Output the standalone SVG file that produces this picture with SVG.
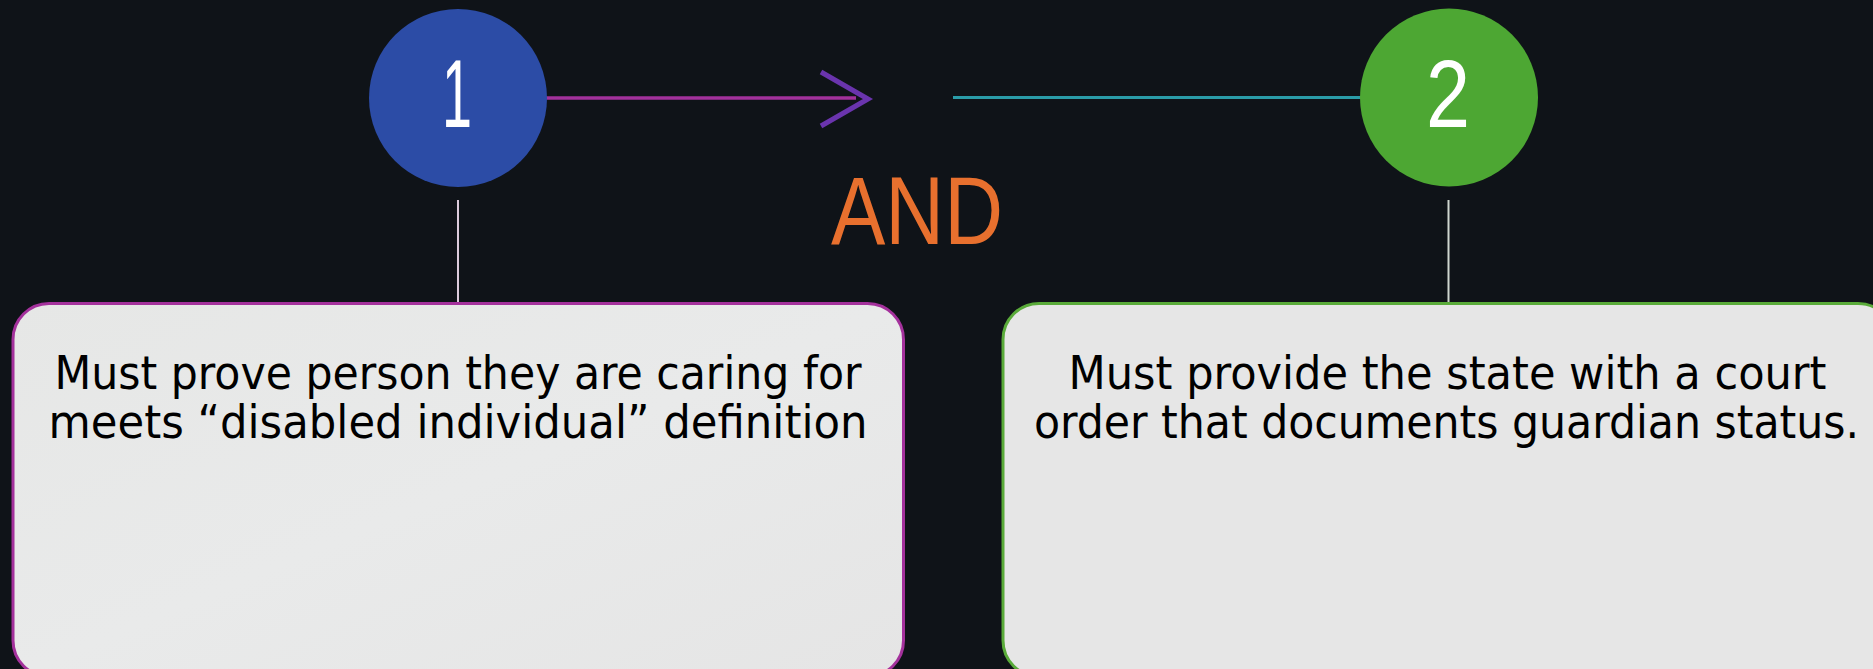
<svg xmlns="http://www.w3.org/2000/svg" width="1873" height="669" viewBox="0 0 1873 669">
<defs>
<style>
.num{font-family:"Liberation Sans","DejaVu Sans",sans-serif;font-size:96px;fill:#ffffff;text-anchor:middle}
.body{font-family:"DejaVu Sans Condensed","Liberation Sans Narrow","Liberation Sans",sans-serif;font-size:46px;fill:#000000;text-anchor:middle}
.and{font-family:"Liberation Sans","DejaVu Sans",sans-serif;font-size:96px;fill:#e8702e;text-anchor:middle}
.box{stroke-width:3}
</style>
<linearGradient id="bg1" x1="0" y1="0" x2="1" y2="1">
<stop offset="0" stop-color="#e6e7e6"/>
<stop offset="0.5" stop-color="#e9eaea"/>
<stop offset="1" stop-color="#e5e5e5"/>
</linearGradient>
</defs>
<rect x="0" y="0" width="1873" height="669" fill="#0f1318"/>
<g id="connectors">
<line x1="546" y1="98" x2="856" y2="98" stroke="#a2319b" stroke-width="3.4"/>
<polyline points="821,72 868,99 821,126" fill="none" stroke="#6a34ad" stroke-width="5"/>
<line x1="953" y1="97.5" x2="1362" y2="97.5" stroke="#2a9ca8" stroke-width="3"/>
<line x1="458" y1="200" x2="458" y2="303" stroke="#dcccdc" stroke-width="2"/>
<line x1="1448.5" y1="200" x2="1448.5" y2="303" stroke="#cfd6cf" stroke-width="2"/>
</g>
<g id="node1">
<circle cx="458" cy="98" r="89" fill="#2c4ca6"/>
<text class="num" x="457" y="127" textLength="30" lengthAdjust="spacingAndGlyphs">1</text>
</g>
<g id="node2">
<circle cx="1449" cy="97.5" r="89" fill="#4da733"/>
<text class="num" x="1448" y="127" textLength="44" lengthAdjust="spacingAndGlyphs">2</text>
</g>
<g id="and-label">
<text class="and" x="917" y="244" textLength="172" lengthAdjust="spacingAndGlyphs">AND</text>
</g>
<g id="box1">
<rect class="box" x="13" y="303.5" width="890.5" height="373" rx="36" ry="36" fill="url(#bg1)" stroke="#a4319c"/>
<text class="body" x="458" y="389" textLength="807" lengthAdjust="spacingAndGlyphs">Must prove person they are caring for</text>
<text class="body" x="458" y="438" textLength="819" lengthAdjust="spacingAndGlyphs">meets “disabled individual” definition</text>
</g>
<g id="box2">
<rect class="box" x="1003" y="303.5" width="891" height="373" rx="36" ry="36" fill="#e6e6e6" stroke="#5aab3a"/>
<text class="body" x="1447.5" y="389" textLength="758" lengthAdjust="spacingAndGlyphs">Must provide the state with a court</text>
<text class="body" x="1446.5" y="438" textLength="825" lengthAdjust="spacingAndGlyphs">order that documents guardian status.</text>
</g>
</svg>
